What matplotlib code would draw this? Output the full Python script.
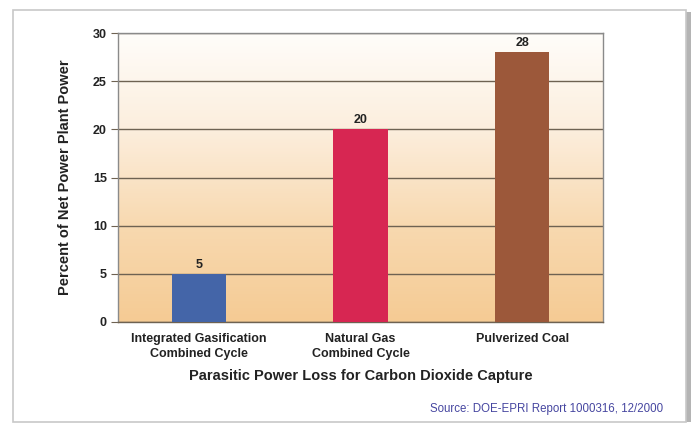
import numpy as np
import matplotlib
matplotlib.use("Agg")
import matplotlib.pyplot as plt
from matplotlib.patches import Rectangle
from matplotlib.colors import LinearSegmentedColormap

categories = ["Integrated Gasification\nCombined Cycle",
              "Natural Gas\nCombined Cycle",
              "Pulverized Coal"]
values = [5, 20, 28]
bar_colors = ["#4465A8", "#D72652", "#9C583A"]
yticks = [0, 5, 10, 15, 20, 25, 30]

plt.rcParams["font.family"] = ["Liberation Sans", "DejaVu Sans"]

fig = plt.figure(figsize=(6.95, 4.24), dpi=100)
fig.patch.set_facecolor("white")

# outer frame with a soft shadow on the right
W, H = 695, 424
shadow = Rectangle((686 / W, 2 / H), 5 / W, (H - 14) / H,
                   transform=fig.transFigure, facecolor="#b4b4b4",
                   edgecolor="none", zorder=0)
frame = Rectangle((13 / W, 2 / H), (686 - 13) / W, (414 - 2) / H,
                  transform=fig.transFigure, facecolor="white",
                  edgecolor="#c8c8c8", linewidth=1.2, zorder=0)
fig.patches.extend([shadow, frame])

ax = fig.add_axes([118 / W, 1 - 322 / H, (603 - 118) / W, (322 - 33) / H])
ax.set_zorder(2)

# warm vertical gradient behind the plot
cmap = LinearSegmentedColormap.from_list(
    "warm", ["#F5CB94", "#F8D9B0", "#FCEEDD", "#FFFDFA"])
grad = np.linspace(0, 1, 256).reshape(-1, 1)
ax.imshow(grad, cmap=cmap, aspect="auto", origin="lower",
          extent=[-0.5, 2.5, 0, 30], zorder=0)

x = np.arange(len(categories))
ax.bar(x, values, width=0.335, color=bar_colors, zorder=3, linewidth=0)
for xi, v in zip(x, values):
    ax.text(xi, v + 0.3, f"{v}", ha="center", va="bottom",
            fontsize=9, fontweight="bold", color="#222222", zorder=4)

ax.set_xlim(-0.5, 2.5)
ax.set_ylim(0, 30)
ax.set_yticks(yticks)
ax.yaxis.grid(True, color="#6e6252", linewidth=1.0, zorder=1)
ax.set_axisbelow(True)
ax.tick_params(axis="y", length=5, color="#6e6252", labelsize=9,
               pad=3)
ax.tick_params(axis="x", length=0, labelsize=9, pad=8)
for lab in ax.get_yticklabels():
    lab.set_fontweight("bold")
    lab.set_color("#222222")
ax.set_xticks(x)
ax.set_xticklabels(categories, fontweight="bold", color="#222222",
                   linespacing=1.35)

for side in ["left", "right", "top", "bottom"]:
    ax.spines[side].set_color("#8a8a8a")
    ax.spines[side].set_linewidth(1.0)
ax.spines["bottom"].set_color("#6e6252")

ax.set_ylabel("Percent of Net Power Plant Power", fontsize=10.5,
              fontweight="bold", color="#222222", labelpad=15)
ax.set_xlabel("Parasitic Power Loss for Carbon Dioxide Capture",
              fontsize=10.5, fontweight="bold", color="#222222", labelpad=6)

fig.text(663 / W, 1 - 409 / H, "Source: DOE-EPRI Report 1000316, 12/2000",
         ha="right", va="center", fontsize=8.3, color="#4646a0")

fig.savefig("out.png", dpi=100)
